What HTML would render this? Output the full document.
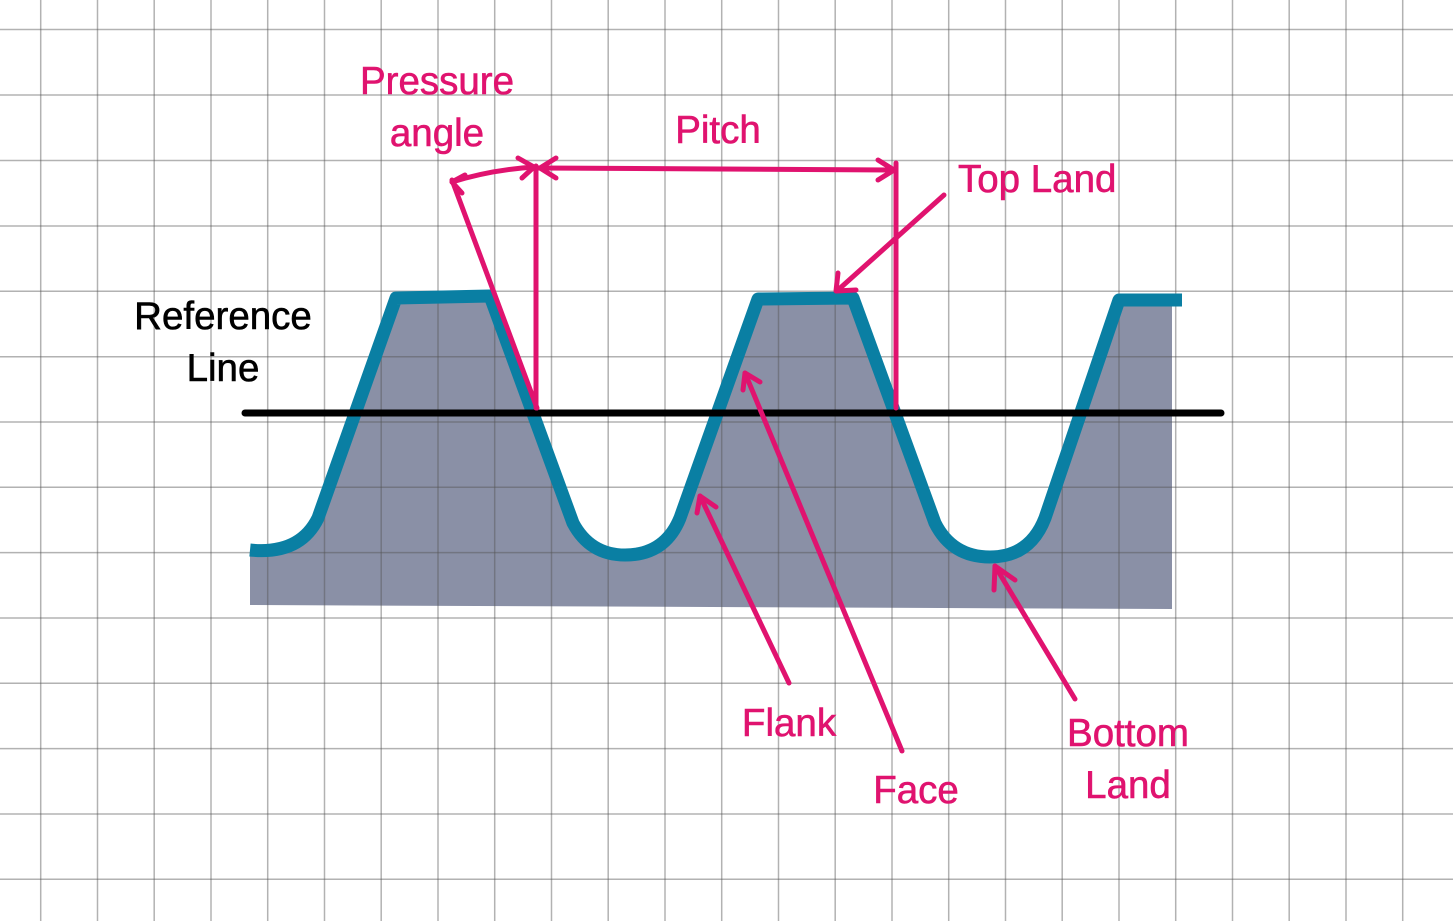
<!DOCTYPE html>
<html><head><meta charset="utf-8"><style>
html,body{margin:0;padding:0;background:#fff;}
svg{display:block;}
text{font-family:"Liberation Sans",sans-serif;font-size:38.5px;stroke-width:0.6px;}
</style></head><body>
<svg width="1453" height="921" viewBox="0 0 1453 921" xmlns="http://www.w3.org/2000/svg">
<rect width="1453" height="921" fill="#fff"/>
<path d="M250,552 Q305,552 320,515 L400,300 L492,298 L575,520 Q590,553 625,553 Q665,553 680,515 L760,300 L852,299 L935,520 Q950,555 990,555 Q1030,555 1045,515 L1120,302 L1172,302 L1172,609 L250,605 Z" fill="#8a90a6"/>
<g stroke="#555" stroke-opacity="0.45" stroke-width="1.5">
<line x1="40.7" y1="0" x2="40.7" y2="921"/><line x1="97.5" y1="0" x2="97.5" y2="921"/><line x1="154.2" y1="0" x2="154.2" y2="921"/><line x1="211" y1="0" x2="211" y2="921"/><line x1="267.7" y1="0" x2="267.7" y2="921"/><line x1="324.5" y1="0" x2="324.5" y2="921"/><line x1="381.2" y1="0" x2="381.2" y2="921"/><line x1="438" y1="0" x2="438" y2="921"/><line x1="494.7" y1="0" x2="494.7" y2="921"/><line x1="551.5" y1="0" x2="551.5" y2="921"/><line x1="608.2" y1="0" x2="608.2" y2="921"/><line x1="665" y1="0" x2="665" y2="921"/><line x1="721.7" y1="0" x2="721.7" y2="921"/><line x1="778.5" y1="0" x2="778.5" y2="921"/><line x1="835.2" y1="0" x2="835.2" y2="921"/><line x1="892" y1="0" x2="892" y2="921"/><line x1="948.7" y1="0" x2="948.7" y2="921"/><line x1="1005.5" y1="0" x2="1005.5" y2="921"/><line x1="1062.2" y1="0" x2="1062.2" y2="921"/><line x1="1119" y1="0" x2="1119" y2="921"/><line x1="1175.7" y1="0" x2="1175.7" y2="921"/><line x1="1232.5" y1="0" x2="1232.5" y2="921"/><line x1="1289.2" y1="0" x2="1289.2" y2="921"/><line x1="1346" y1="0" x2="1346" y2="921"/><line x1="1402.7" y1="0" x2="1402.7" y2="921"/>
<line x1="0" y1="29.5" x2="1453" y2="29.5"/><line x1="0" y1="95" x2="1453" y2="95"/><line x1="0" y1="160.5" x2="1453" y2="160.5"/><line x1="0" y1="226" x2="1453" y2="226"/><line x1="0" y1="291.3" x2="1453" y2="291.3"/><line x1="0" y1="356.7" x2="1453" y2="356.7"/><line x1="0" y1="422" x2="1453" y2="422"/><line x1="0" y1="487.3" x2="1453" y2="487.3"/><line x1="0" y1="552.6" x2="1453" y2="552.6"/><line x1="0" y1="618" x2="1453" y2="618"/><line x1="0" y1="683.3" x2="1453" y2="683.3"/><line x1="0" y1="748.6" x2="1453" y2="748.6"/><line x1="0" y1="814" x2="1453" y2="814"/><line x1="0" y1="879.3" x2="1453" y2="879.3"/>
</g>
<path d="M250,550 Q300,555 318,518 L396,298 L490,296 L573,523 Q590,555 625,555 Q665,555 680,518 L758,299 L853,298 L935,523 Q952,557 990,557 Q1030,557 1045,518 L1119,300 L1182,300" fill="none" stroke="#0a7fa3" stroke-width="13" stroke-linejoin="round"/>
<line x1="245" y1="413" x2="1221" y2="413" stroke="#000" stroke-width="7" stroke-linecap="round"/>
<g stroke="#e0136f" stroke-width="5" fill="none" stroke-linecap="round" stroke-linejoin="round">
<line x1="536" y1="166" x2="536" y2="408"/>
<line x1="452" y1="180" x2="537" y2="408"/>
<path d="M452,182 Q490,170 534,167"/>
<path d="M465,175 L452,182 L462,193"/>
<path d="M518,158 L534,167 L522,178"/>
<line x1="538" y1="168" x2="894" y2="170"/>
<path d="M556,158 L540,168 L556,178"/>
<path d="M878,160 L894,170 L878,180"/>
<line x1="896" y1="163" x2="896" y2="408"/>
<line x1="944" y1="195" x2="838" y2="290"/>
<path d="M838,273 L836,291 L856,290"/>
<line x1="789" y1="683" x2="700" y2="496"/>
<path d="M697,513 L700,496 L716,507"/>
<line x1="902" y1="751" x2="745" y2="373"/>
<path d="M743,390 L745,373 L760,382"/>
<line x1="1075" y1="699" x2="995" y2="566"/>
<path d="M994,590 L995,566 L1015,580"/>
</g>
<g fill="#e0136f" stroke="#e0136f">
<text x="437" y="94" text-anchor="middle">Pressure</text>
<text x="437" y="146" text-anchor="middle">angle</text>
<text x="718" y="143" text-anchor="middle">Pitch</text>
<text x="958" y="192">Top Land</text>
<text x="789" y="736" text-anchor="middle">Flank</text>
<text x="916" y="803" text-anchor="middle">Face</text>
<text x="1128" y="746" text-anchor="middle">Bottom</text>
<text x="1128" y="798" text-anchor="middle">Land</text>
</g>
<g fill="#000" stroke="#000">
<text x="223" y="329" text-anchor="middle">Reference</text>
<text x="223" y="381" text-anchor="middle">Line</text>
</g>
</svg>
</body></html>
